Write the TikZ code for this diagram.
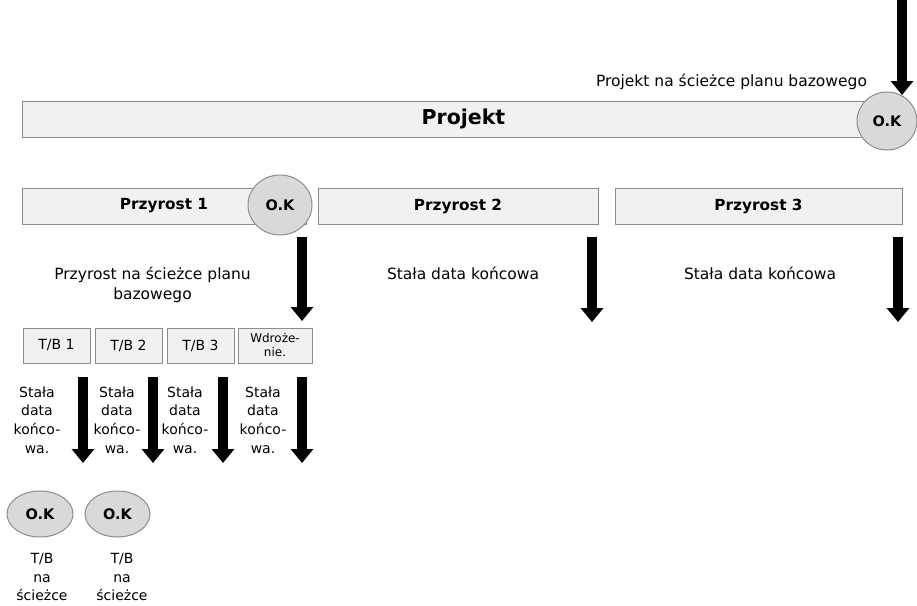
\documentclass[tikz,border=0pt]{standalone}
\usepackage{fontspec}
\setmainfont{DejaVu Sans}
\usetikzlibrary{arrows.meta,shapes.geometric}
\definecolor{barfill}{HTML}{F1F1F1}
\definecolor{barline}{HTML}{8C8C8C}
\definecolor{okfill}{HTML}{D9D9D9}
\begin{document}
\begin{tikzpicture}[x=1pt,y=-1pt,
  bar/.style={draw=barline, fill=barfill, line width=1pt, minimum height=36pt, inner sep=0pt, font=\bfseries\fontsize{15.3}{18}\selectfont},
  tbbox/.style={draw=barline, fill=barfill, line width=1pt, minimum height=35pt, inner sep=0pt, font=\fontsize{14}{16}\selectfont},
  okc/.style={ellipse, draw=barline, fill=okfill, line width=1pt, inner sep=0pt, font=\bfseries\fontsize{14.5}{16}\selectfont},
  lbl/.style={inner sep=0pt, align=center, font=\fontsize{15.5}{20}\selectfont},
  slbl/.style={inner sep=0pt, align=center, font=\fontsize{14}{18.6}\selectfont},
  bigarrow/.style={line width=10.5pt, -{Triangle[width=22pt,length=14pt]}}
]
\useasboundingbox (0,0) rectangle (917,605);

% main project bar
\node[bar, minimum width=883pt, font=\bfseries\fontsize{20.5}{24}\selectfont] (proj) at (463.5,119) {Projekt};
\node[okc, minimum width=60pt, minimum height=58pt] (ok0) at (887,121) {O.K};
\node[lbl] (projtxt) at (731.5,82) {Projekt na ścieżce planu bazowego};
\coordinate (topA) at (902,0);
\coordinate (topB) at (902,95);
\draw[bigarrow] (topA) -- (topB);

% increments
\node[bar, minimum width=284pt] (p1) at (164,206) {Przyrost 1};
\node[okc, minimum width=64pt, minimum height=60pt] (ok1) at (280,205) {O.K};
\node[bar, minimum width=280pt] (p2) at (458,206) {Przyrost 2};
\node[bar, minimum width=287pt] (p3) at (758.5,206) {Przyrost 3};

\node[lbl] (p1txt) at (152.5,285) {Przyrost na ścieżce planu\\bazowego};
\node[lbl] (p2txt) at (463,273) {Stała data końcowa};
\node[lbl] (p3txt) at (760,273) {Stała data końcowa};

\coordinate (a1s) at (302,237); \coordinate (a1e) at (302,321);
\coordinate (a2s) at (592,237); \coordinate (a2e) at (592,322);
\coordinate (a3s) at (898,237); \coordinate (a3e) at (898,322);
\draw[bigarrow] (a1s) -- (a1e);
\draw[bigarrow] (a2s) -- (a2e);
\draw[bigarrow] (a3s) -- (a3e);

% T/B boxes
\node[tbbox, minimum width=67pt] (tb1) at (56.5,345.5) {T/B 1};
\node[tbbox, minimum width=67pt] (tb2) at (128.5,345.5) {T/B 2};
\node[tbbox, minimum width=67pt] (tb3) at (200.5,345.5) {T/B 3};
\node[tbbox, minimum width=74pt, align=center, font=\fontsize{12}{14}\selectfont] (tb4) at (275,345.5) {Wdroże-\\nie.};

% small deadline labels and arrows
\node[slbl] (s1) at (37,420) {Stała\\data\\końco-\\wa.};
\node[slbl] (s2) at (117,420) {Stała\\data\\końco-\\wa.};
\node[slbl] (s3) at (185,420) {Stała\\data\\końco-\\wa.};
\node[slbl] (s4) at (263,420) {Stała\\data\\końco-\\wa.};

\foreach \x/\n in {83/1,153/2,223/3,302/4}{
  \coordinate (b\n s) at (\x,377);
  \coordinate (b\n e) at (\x,463);
}
\draw[bigarrow] (b1s) -- (b1e);
\draw[bigarrow] (b2s) -- (b2e);
\draw[bigarrow] (b3s) -- (b3e);
\draw[bigarrow] (b4s) -- (b4e);

% OK ellipses
\node[okc, minimum width=66pt, minimum height=46pt] (ok2) at (40,514) {O.K};
\node[okc, minimum width=65pt, minimum height=46pt] (ok3) at (117.5,514) {O.K};
\node[slbl, anchor=north] (t1) at (42,553) {T/B\\na\\ścieżce};
\node[slbl, anchor=north] (t2) at (122,553) {T/B\\na\\ścieżce};
\end{tikzpicture}
\end{document}
